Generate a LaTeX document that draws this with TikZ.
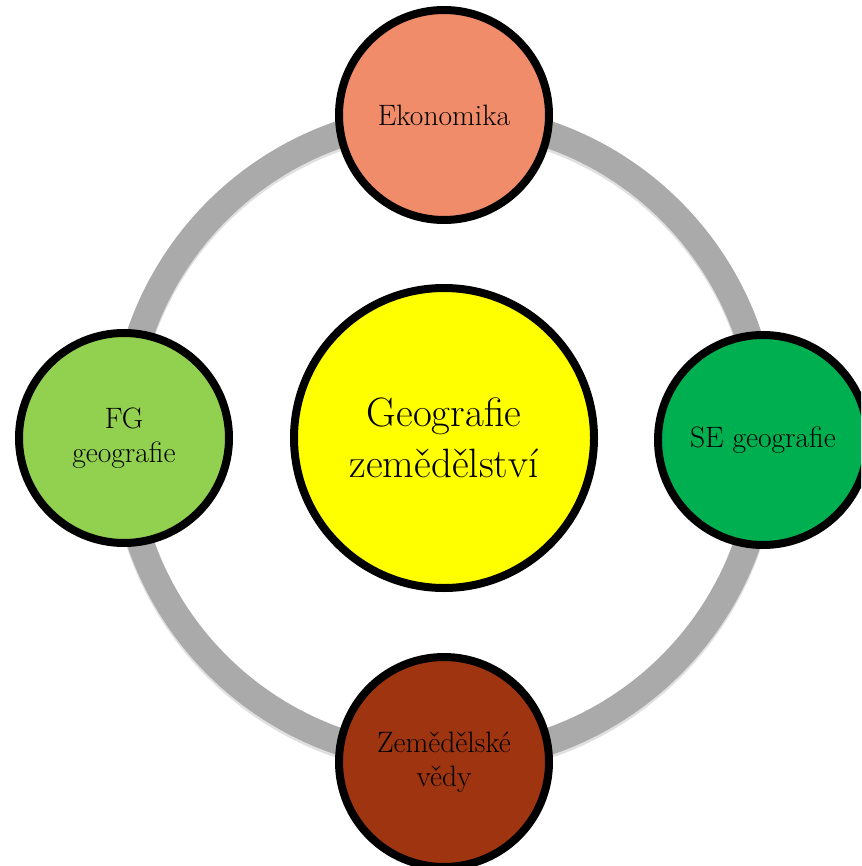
\documentclass[tikz,border=0pt]{standalone}
\usetikzlibrary{shadows}
\definecolor{ringgray}{RGB}{170,170,170}
\definecolor{ekonomikaorange}{RGB}{240,140,106}
\definecolor{fglight}{RGB}{146,208,80}
\definecolor{segreen}{RGB}{0,176,80}
\definecolor{vedybrown}{RGB}{158,52,16}
\definecolor{hubyellow}{RGB}{255,255,0}

\begin{document}
\begin{tikzpicture}[x=1pt,y=-1pt,
  sat/.style={circle, draw=black, line width=8pt, minimum size=210pt, inner sep=0pt,
    align=center, font=\fontsize{29.5}{34}\selectfont,
    drop shadow={opacity=0.18, shadow xshift=0pt, shadow yshift=-3pt}},
  hub/.style={sat, minimum size=300pt, font=\fontsize{41}{51}\selectfont}]
\useasboundingbox (0,0) rectangle (861,866);
\clip (0,0) rectangle (861,866);

\coordinate (mid) at (444,438);
% ring
\draw[black, opacity=0.12, line width=27pt] ([yshift=-3pt]mid) circle (321pt);
\draw[ringgray, line width=27pt] (mid) circle (321pt);

\node[sat, fill=ekonomikaorange] (ekon) at (444,115) {Ekonomika};
\node[sat, fill=fglight] (fg) at (124,438) {FG\\geografie};
\node[sat, fill=segreen] (se) at (763,440) {SE geografie};
\node[sat, fill=vedybrown] (vedy) at (444,762) {Zemědělské\\vědy};
\node[hub, fill=hubyellow] (geo) at (mid) {Geografie\\zemědělství};

\end{tikzpicture}
\end{document}
